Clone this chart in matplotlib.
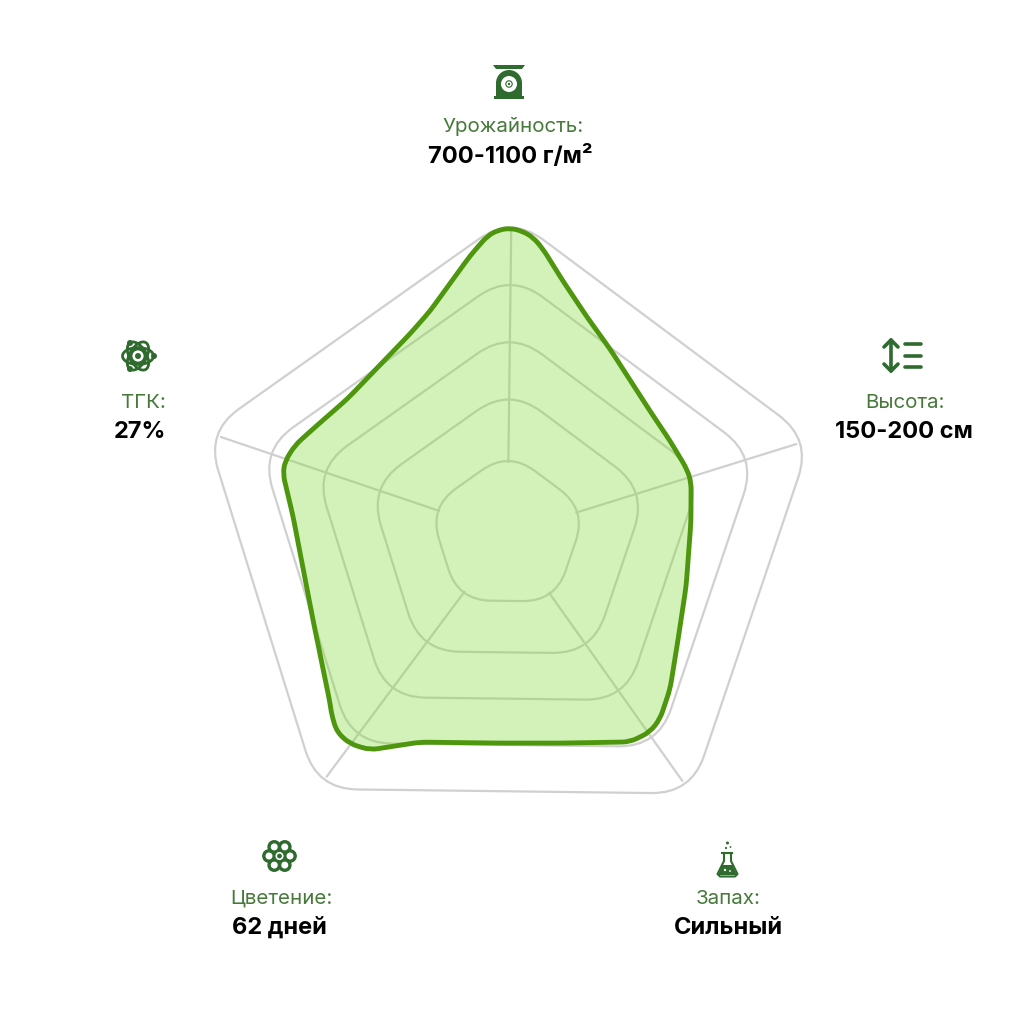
import numpy as np
import matplotlib
matplotlib.use('Agg')
import matplotlib.pyplot as plt
from matplotlib.path import Path
from matplotlib.patches import PathPatch, Circle, Ellipse, Polygon, Rectangle

# axes of the radar, clockwise from the top
categories = ['Урожайность:', 'Высота:', 'Запах:', 'Цветение:', 'ТГК:']
values_text = ['700-1100 г/м²', '150-200 см', 'Сильный', '62 дней', '27%']
ring_levels = [26, 46, 64, 82, 100]

# outline of the filled shape: angle (deg from top), value
outline_angle = [0.5, 2.7, 4.9, 7.1, 12.4, 20.1, 29.0, 49.2, 60.2, 70.1, 74.2, 86.3, 106.2,
                 121.6, 133.6, 140.5, 144.3, 149.5, 165.9, 182.1, 202.8, 212.5, 216.9, 220.7,
                 224.0, 226.6, 246.4, 274.8, 285.0, 288.2, 292.7, 298.4, 310.1, 324.1, 334.0,
                 340.8, 352.3, 356.1, 358.2]
outline_value = [96.2, 95.4, 93.7, 90.3, 81.4, 72.7, 66.5, 59.2, 58.9, 60.0, 60.0, 57.8, 58.5,
                 63.0, 70.6, 75.4, 76.7, 75.9, 67.8, 65.8, 71.0, 80.5, 82.5, 82.2,
                 79.5, 76.9, 66.8, 67.7, 73.1, 73.6, 72.4, 69.5, 65.9, 66.8, 70.0,
                 74.2, 88.2, 93.9, 95.6]

GREEN_LABEL = '#47793a'
GREEN_ICON = '#2f6a2e'
GREY = '#d0d0d0'
CX, CY = 507.5, 535.0
SCALE = 3.18
TILT = 0.7

plt.rcParams['font.family'] = ['Inter', 'DejaVu Sans']


def to_xy(angle, value):
    a = np.radians(np.asarray(angle, dtype=float))
    v = np.asarray(value, dtype=float) * SCALE
    return CX + v * np.sin(a), CY - v * np.cos(a)


def rounded_path(xs, ys, cut):
    # closed polygon with every corner replaced by a quadratic curve
    pts = np.column_stack([xs, ys])
    n = len(pts)
    verts, codes = [], []
    for i in range(n):
        p, prev, nxt = pts[i], pts[i - 1], pts[(i + 1) % n]
        d1 = min(cut, np.linalg.norm(prev - p) / 2)
        d2 = min(cut, np.linalg.norm(nxt - p) / 2)
        a = p + (prev - p) / np.linalg.norm(prev - p) * d1
        b = p + (nxt - p) / np.linalg.norm(nxt - p) * d2
        verts.append(a)
        codes.append(Path.MOVETO if i == 0 else Path.LINETO)
        verts += [p, b]
        codes += [Path.CURVE3, Path.CURVE3]
    verts.append(verts[0])
    codes.append(Path.CLOSEPOLY)
    return Path(verts, codes)


fig = plt.figure(figsize=(10.2, 10.2), dpi=100)
ax = fig.add_axes([0, 0, 1, 1])
ax.set_xlim(0, 1020)
ax.set_ylim(1020, 0)
ax.axis('off')

spoke_angles = np.arange(5) * 72 + TILT

# rings and spokes
ring_cuts = [33, 40, 40, 40, 40]
for level, cut in zip(ring_levels, ring_cuts):
    x, y = to_xy(spoke_angles, [level] * 5)
    ax.add_patch(PathPatch(rounded_path(x, y, cut), fc='none', ec=GREY, lw=1.6, zorder=1))
for a in spoke_angles:
    x, y = to_xy([a, a], [ring_levels[0] - 3.6, ring_levels[-1] - 4.6])
    ax.plot(x, y, color=GREY, lw=1.6, zorder=1, solid_capstyle='butt')

# filled shape
x, y = to_xy(outline_angle, outline_value)
shape = rounded_path(x, y, 8)
ax.add_patch(PathPatch(shape, fc='#7fdb3a', ec='none', alpha=0.35, zorder=2))
ax.add_patch(PathPatch(shape, fc='none', ec='#4f960f', lw=3.5, zorder=3, joinstyle='round'))

# labels
label_x = [513, 905, 728, 281, 143]
label_y = [127, 403, 899, 899, 403]
value_x = [510, 904, 728, 279, 140]
value_y = [156, 432, 928, 928, 432]
for i in range(5):
    ax.text(label_x[i], label_y[i], categories[i], ha='center', va='center', fontsize=14.8,
            color=GREEN_LABEL)
    ax.text(value_x[i], value_y[i], values_text[i], ha='center', va='center', fontsize=17,
            fontweight='bold', color='black')

# icon: scales
ax.add_patch(Polygon([(493, 66), (525, 66), (522, 70), (496, 70)], fc=GREEN_ICON, ec='none'))
ax.add_patch(Circle((509, 84), 13, fc=GREEN_ICON, ec='none'))
ax.add_patch(Rectangle((496, 84), 26, 14, fc=GREEN_ICON, ec='none'))
ax.add_patch(Rectangle((494, 97), 30, 3, fc=GREEN_ICON, ec='none'))
ax.add_patch(Circle((509, 85), 8, fc='white', ec='none', zorder=4))
ax.add_patch(Circle((509, 85), 3.2, fc='none', ec=GREEN_ICON, lw=0.8, zorder=5))
ax.add_patch(Circle((509, 85), 1.2, fc=GREEN_ICON, ec='none', zorder=5))

# icon: atom
for rot in [0, 60, 120]:
    ax.add_patch(Ellipse((138, 357), 31, 17, angle=rot, fc='none', ec=GREEN_ICON, lw=2))
ax.add_patch(Circle((138, 357), 7, fc='white', ec=GREEN_ICON, lw=2, zorder=4))
ax.add_patch(Circle((138, 357), 3, fc=GREEN_ICON, ec='none', zorder=5))
for dx, dy in [(-8, -13), (16, 0), (-8, 13)]:
    ax.add_patch(Circle((138 + dx, 357 + dy), 3, fc=GREEN_ICON, ec='none', zorder=5))

# icon: height
ax.plot([891, 891], [341, 372], color=GREEN_ICON, lw=2.6, solid_capstyle='round')
ax.plot([884, 891, 898], [348, 341, 348], color=GREEN_ICON, lw=2.6, solid_capstyle='round')
ax.plot([884, 891, 898], [365, 372, 365], color=GREEN_ICON, lw=2.6, solid_capstyle='round')
for yy in [345, 357, 368]:
    ax.plot([905, 921], [yy, yy], color=GREEN_ICON, lw=2.6, solid_capstyle='round')

# icon: flower
for k in range(6):
    a = np.radians(60 * k)
    ax.add_patch(Circle((279.5 + 10.5 * np.cos(a), 857 + 10.5 * np.sin(a)), 5.2, fc='white',
                        ec=GREEN_ICON, lw=2.4))
ax.add_patch(Circle((279.5, 857), 5.2, fc='white', ec=GREEN_ICON, lw=1.6, zorder=4))
ax.add_patch(Circle((279.5, 857), 2.4, fc=GREEN_ICON, ec='none', zorder=5))

# icon: flask
flask_x = [724, 724, 717.5, 720, 735, 737.5, 731, 731]
flask_y = [854, 862, 875, 877.5, 877.5, 875, 862, 854]
ax.plot(flask_x, flask_y, color=GREEN_ICON, lw=1.5, solid_joinstyle='round')
ax.plot([722.5, 732.5], [853.5, 853.5], color=GREEN_ICON, lw=1.5)
ax.add_patch(Polygon([(722.5, 866), (732.5, 866), (737, 876), (718, 876)], fc=GREEN_ICON, ec='none'))
ax.add_patch(Circle((725, 871), 1.2, fc='white', ec='none', zorder=4))
ax.add_patch(Circle((730, 872), 0.9, fc='white', ec='none', zorder=4))
for bx, by, br in [(727.5, 844, 1.5), (726, 849, 1.1), (730.5, 848, 0.9)]:
    ax.add_patch(Circle((bx, by), br, fc=GREEN_ICON, ec='none'))

fig.savefig('out.png', dpi=100, facecolor='white')
